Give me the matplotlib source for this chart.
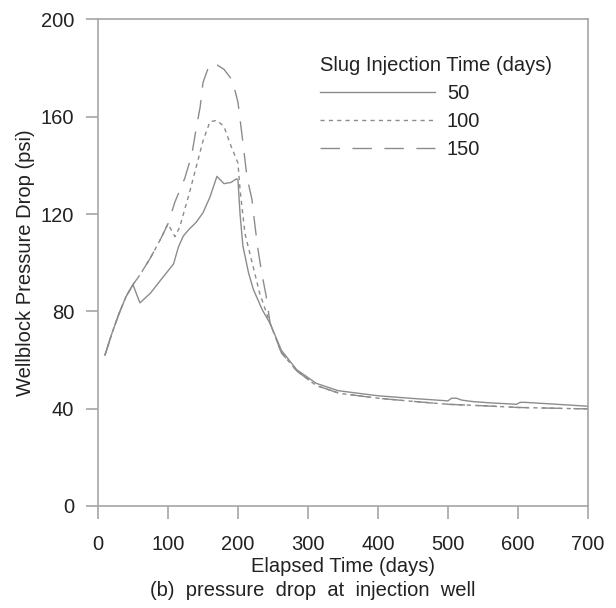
import matplotlib
matplotlib.use("Agg")
import matplotlib.pyplot as plt

# -------------------------------
# DATA
# -------------------------------
t_50 = [10, 20, 30, 40, 50, 60, 75, 90, 108, 115, 122, 131, 140, 150, 160, 170,
        180, 190, 198, 200, 203, 207, 215, 222, 235, 246, 262, 284, 312, 343,
        400, 450, 500, 505, 512, 520, 536, 560, 598, 603, 610, 650, 700]
p_50 = [62, 71, 79, 86, 91, 83.5, 87.5, 93, 99.5, 106.5, 111, 114, 116.5, 120.5, 127, 135.5,
        132.5, 133, 134.5, 134, 120, 107, 96, 89, 80.5, 75, 64, 56, 50.4, 47.4,
        45.3, 44.2, 43.2, 44.3, 44.3, 43.5, 42.9, 42.4, 41.8, 42.6, 42.6, 41.9, 41.0]

t_100 = [10, 20, 30, 40, 50, 60, 75, 90, 100, 110, 117, 124, 130, 140, 150, 160,
         170, 180, 190, 200, 203, 210, 222, 231, 246, 262, 284, 312, 345, 400,
         450, 500, 550, 600, 650, 700]
p_100 = [62, 71, 79, 86, 91, 95, 102, 110, 116, 110.7, 114.8, 122, 128, 139, 150, 158,
         158.5, 156, 148, 141, 130, 112, 98, 87.5, 75, 63, 55.5, 49.5, 46.3, 44.3,
         43, 41.8, 41.2, 40.5, 40.2, 39.9]

t_150 = [10, 20, 30, 40, 50, 60, 75, 90, 100, 110, 124, 134, 140, 146, 150, 159,
         168, 180, 192, 200, 206, 213, 220, 224, 228, 234, 240, 246, 262, 284,
         312, 345, 400, 450, 500, 550, 600, 650, 700]
p_150 = [62, 71, 79, 86, 91, 95, 102, 110, 116, 125, 134.7, 144.3, 154.6, 164, 174, 181.3,
         181.7, 179.5, 175, 166, 152, 135, 126, 116, 106.6, 95.7, 86.8, 75, 63, 55.5,
         49.5, 46.3, 44.3, 43, 41.8, 41.2, 40.5, 40.2, 39.9]

x_ticks = [0, 100, 200, 300, 400, 500, 600, 700]
y_ticks = [0, 40, 80, 120, 160, 200]

# -------------------------------
# STYLE
# -------------------------------
plt.rcParams['font.family'] = ['Liberation Sans', 'DejaVu Sans']
line_color = '#8c8c8c'
spine_color = '#a6a6a6'
text_color = '#222222'
fs = 14.5

fig = plt.figure(figsize=(6.16, 6.08), dpi=100)
ax = fig.add_axes([0.159, 0.1678, 0.7955, 0.8002])

ax.plot(t_50, p_50, color=line_color, lw=1.0, label='50')
ax.plot(t_100, p_100, color=line_color, lw=1.0, dashes=(3, 3), label='100')
ax.plot(t_150, p_150, color=line_color, lw=1.0, dashes=(14, 9), label='150')

ax.set_xlim(0, 700)
ax.set_ylim(0, 200)
ax.set_xticks(x_ticks)
ax.set_yticks(y_ticks)

for s in ax.spines.values():
    s.set_color(spine_color)
    s.set_linewidth(1.2)
ax.tick_params(axis='both', colors=spine_color, labelcolor=text_color,
               labelsize=fs, length=9, width=1.2, direction='out')
ax.tick_params(axis='y', pad=8)
ax.tick_params(axis='x', pad=12)

ax.set_ylabel('Wellblock Pressure Drop (psi)', fontsize=fs, color=text_color, labelpad=4)
ax.set_xlabel('Elapsed Time (days)', fontsize=fs, color=text_color, labelpad=2)

leg = ax.legend(title='Slug Injection Time (days)', frameon=False, fontsize=fs,
                title_fontsize=fs, loc='upper left', bbox_to_anchor=(0.453, 0.925),
                handlelength=5.7, handletextpad=0.6, labelspacing=0.45,
                alignment='left', borderaxespad=0, borderpad=0)
for txt in leg.get_texts():
    txt.set_color(text_color)
leg.get_title().set_color(text_color)

fig.text(0.507, 0.028, '(b)  pressure  drop  at  injection  well', ha='center', va='center',
         fontsize=fs, color=text_color)

fig.savefig('out.png', dpi=100)
